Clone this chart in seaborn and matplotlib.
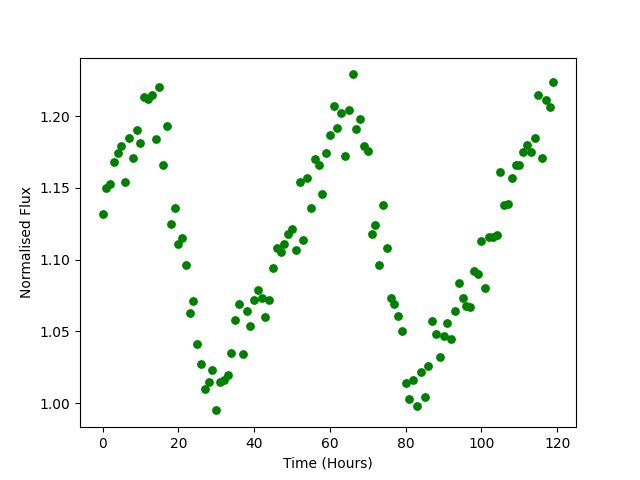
import matplotlib

matplotlib.use("Agg")
import matplotlib.pyplot as plt
import pandas as pd
import seaborn as sns

# Time in hours, one reading per hour
hours = list(range(120))

# Normalised flux
flux = [
    1.132, 1.150, 1.153, 1.168, 1.174, 1.179, 1.154, 1.185, 1.171, 1.190,
    1.181, 1.213, 1.212, 1.215, 1.184, 1.220, 1.166, 1.193, 1.125, 1.136,
    1.111, 1.115, 1.096, 1.063, 1.071, 1.041, 1.027, 1.010, 1.015, 1.023,
    0.995, 1.015, 1.016, 1.020, 1.035, 1.058, 1.069, 1.034, 1.064, 1.054,
    1.072, 1.079, 1.073, 1.060, 1.072, 1.094, 1.108, 1.105, 1.111, 1.118,
    1.121, 1.107, 1.154, 1.114, 1.157, 1.136, 1.170, 1.166, 1.146, 1.174,
    1.187, 1.207, 1.192, 1.202, 1.172, 1.204, 1.229, 1.191, 1.198, 1.179,
    1.176, 1.118, 1.124, 1.096, 1.138, 1.108, 1.073, 1.069, 1.061, 1.050,
    1.014, 1.003, 1.016, 0.998, 1.022, 1.004, 1.026, 1.057, 1.048, 1.032,
    1.047, 1.056, 1.045, 1.064, 1.084, 1.073, 1.068, 1.067, 1.092, 1.090,
    1.113, 1.080, 1.116, 1.116, 1.117, 1.161, 1.138, 1.139, 1.157, 1.166,
    1.166, 1.175, 1.180, 1.175, 1.185, 1.215, 1.171, 1.211, 1.206, 1.224,
]

df = pd.DataFrame({"Time (Hours)": hours, "Normalised Flux": flux})

fig, ax = plt.subplots(figsize=(6.4, 4.8), dpi=100)
sns.scatterplot(
    data=df,
    x="Time (Hours)",
    y="Normalised Flux",
    color="green",
    s=40,
    linewidth=0,
    ax=ax,
)
ax.set_xlabel("Time (Hours)")
ax.set_ylabel("Normalised Flux")

fig.savefig("out.png", dpi=100)
